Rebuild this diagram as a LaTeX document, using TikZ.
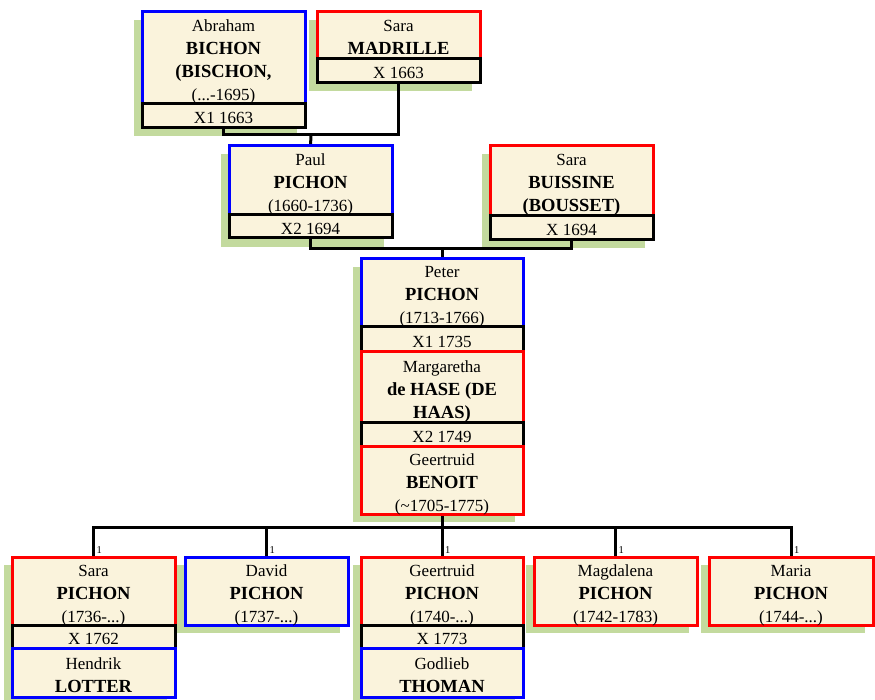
\documentclass[tikz,border=0pt]{standalone}
\usepackage{fontspec}
\setmainfont{Liberation Serif}
\definecolor{cream}{RGB}{250,243,220}
\definecolor{shgreen}{RGB}{195,218,158}
\newcommand\Lx[1]{\rule[-2pt]{0pt}{20pt}\smash{#1}}
\newcommand\Bx[1]{\rule[-2pt]{0pt}{20pt}\smash{\bfseries\fontsize{18.5}{23}\selectfont #1}}
\pgfdeclarelayer{bg}
\pgfsetlayers{bg,main}
\tikzset{
 bx/.style={anchor=north west, inner sep=0pt, outer sep=0pt, minimum width=163pt, fill=cream, line width=3pt, align=center, font=\fontsize{17}{23}\selectfont},
 male/.style={bx, draw=blue},
 female/.style={bx, draw=red},
 marr/.style={bx, draw=black},
 shadow/.style={fill=shgreen},
 conn/.style={line width=3pt, draw=black},
 one/.style={font=\fontsize{10.5}{11}\selectfont, inner sep=0pt, anchor=base west, xshift=3pt, yshift=4pt}
}
\begin{document}
\begin{tikzpicture}[x=1pt,y=-1pt]
\useasboundingbox (0,0) rectangle (875,700);

% ---------- generation 1
\node[male, minimum height=92pt] (abr) at (142,12) {\Lx{Abraham}\\\Bx{BICHON}\\\Bx{(BISCHON,}\\\Lx{(...-1695)}};
\node[marr, minimum height=24pt] (abrm) at (142,104) {\Lx{X1 1663}};
\node[female, minimum height=47pt] (sam) at (317,12) {\Lx{Sara}\\\Bx{MADRILLE}};
\node[marr, minimum height=24pt] (samm) at (317,59) {\Lx{X 1663}};

% ---------- generation 2
\node[male, minimum height=69pt] (paul) at (229,146) {\Lx{Paul}\\\Bx{PICHON}\\\Lx{(1660-1736)}};
\node[marr, minimum height=23pt] (paulm) at (229,215) {\Lx{X2 1694}};
\node[female, minimum height=70pt] (sab) at (490,146) {\Lx{Sara}\\\Bx{BUISSINE}\\\Bx{(BOUSSET)}};
\node[marr, minimum height=24pt] (sabm) at (490,216) {\Lx{X 1694}};

% ---------- generation 3
\node[male, minimum width=162pt, minimum height=68pt] (pet) at (361,259) {\Lx{Peter}\\\Bx{PICHON}\\\Lx{(1713-1766)}};
\node[marr, minimum width=162pt, minimum height=25pt] (petm1) at (361,327) {\Lx{X1 1735}};
\node[female, minimum width=162pt, minimum height=70pt] (mar) at (361,352) {\Lx{Margaretha}\\\Bx{de HASE (DE}\\\Bx{HAAS)}};
\node[marr, minimum width=162pt, minimum height=24pt] (petm2) at (361,422) {\Lx{X2 1749}};
\node[female, minimum width=162pt, minimum height=68pt] (gbe) at (361,446) {\Lx{Geertruid}\\\Bx{BENOIT}\\\Lx{(\char`~1705-1775)}};

% ---------- generation 4
\node[female, minimum height=68pt] (c1) at (12,557) {\Lx{Sara}\\\Bx{PICHON}\\\Lx{(1736-...)}};
\node[marr, minimum height=23pt] (c1m) at (12,625) {\Lx{X 1762}};
\node[male, minimum height=49pt] (c1s) at (12,648) {\Lx{Hendrik}\\\Bx{LOTTER}};

\node[male, minimum height=68pt] (c2) at (185,557) {\Lx{David}\\\Bx{PICHON}\\\Lx{(1737-...)}};

\node[female, minimum width=162pt, minimum height=68pt] (c3) at (361,557) {\Lx{Geertruid}\\\Bx{PICHON}\\\Lx{(1740-...)}};
\node[marr, minimum width=162pt, minimum height=23pt] (c3m) at (361,625) {\Lx{X 1773}};
\node[male, minimum width=162pt, minimum height=49pt] (c3s) at (361,648) {\Lx{Godlieb}\\\Bx{THOMAN}};

\node[female, minimum height=68pt] (c4) at (534,557) {\Lx{Magdalena}\\\Bx{PICHON}\\\Lx{(1742-1783)}};
\node[female, minimum width=164pt, minimum height=68pt] (c5) at (709,557) {\Lx{Maria}\\\Bx{PICHON}\\\Lx{(1744-...)}};

% ---------- "1" labels
\node[one] (o1) at (c1.north) {1};
\node[one] (o2) at (c2.north) {1};
\node[one] (o3) at (c3.north) {1};
\node[one] (o4) at (c4.north) {1};
\node[one] (o5) at (c5.north) {1};

% ---------- background: shadows and connectors
\begin{pgfonlayer}{bg}
\fill[shadow] (134,20) rectangle ++(163,116);
\fill[shadow] (309,20) rectangle ++(163,71);
\fill[shadow] (221,154) rectangle ++(163,93);
\fill[shadow] (482,154) rectangle ++(163,94);
\fill[shadow] (353,267) rectangle ++(162,255);
\fill[shadow] (4,565) rectangle ++(163,140);
\fill[shadow] (177,565) rectangle ++(163,68);
\fill[shadow] (353,565) rectangle ++(162,140);
\fill[shadow] (526,565) rectangle ++(163,68);
\fill[shadow] (701,565) rectangle ++(164,68);

\coordinate (j1) at (311,135);
\coordinate (j2) at (442,249);
\coordinate (j3) at (442,527);
\draw[conn] (abrm.south) |- (j1) -| (samm.south);
\draw[conn] (j1) -- (paul.north);
\draw[conn] (paulm.south) |- (j2) -| (sabm.south);
\draw[conn] (j2) -- (pet.north);
\draw[conn] (gbe.south) -- (c3.north);
\draw[conn] (c1.north) |- (j3) -| (c5.north);
\draw[conn] (c2.north) -- (c2.north |- j3);
\draw[conn] (c4.north) -- (c4.north |- j3);
\end{pgfonlayer}
\end{tikzpicture}
\end{document}
